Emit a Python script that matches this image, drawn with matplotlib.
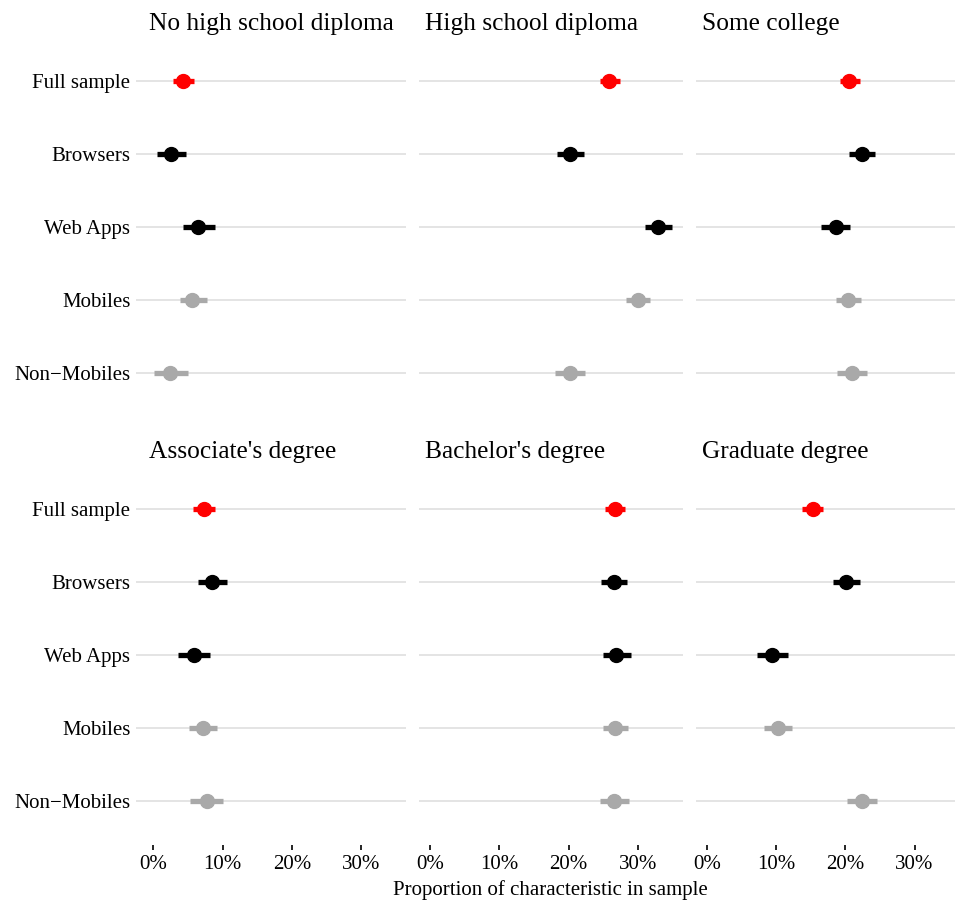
import numpy as np
import matplotlib
matplotlib.use("Agg")
import matplotlib.pyplot as plt
from matplotlib.ticker import FuncFormatter

plt.rcParams['font.family'] = ['Liberation Serif', 'DejaVu Serif']

# facet titles (education level) and rows within each facet
panels = ["No high school diploma", "High school diploma", "Some college",
          "Associate's degree", "Bachelor's degree", "Graduate degree"]
groups = ["Full sample", "Browsers", "Web Apps", "Mobiles", "Non\u2212Mobiles"]
group_colors = ["#FF0000", "#000000", "#000000", "#A9A9A9", "#A9A9A9"]

# share of sample (%) per panel, rows in the order of `groups`
est = [
    [4.3, 2.5, 6.5, 5.6, 2.4],
    [25.9, 20.2, 32.9, 30.0, 20.2],
    [20.6, 22.4, 18.6, 20.4, 21.0],
    [7.3, 8.5, 5.9, 7.1, 7.7],
    [26.7, 26.5, 26.9, 26.7, 26.6],
    [15.3, 20.1, 9.4, 10.3, 22.4],
]
lower = [
    [2.9, 0.5, 4.3, 3.8, 0.1],
    [24.6, 18.3, 31.0, 28.3, 18.0],
    [19.3, 20.5, 16.5, 18.7, 18.8],
    [5.8, 6.5, 3.6, 5.2, 5.3],
    [25.3, 24.7, 24.9, 25.0, 24.5],
    [13.8, 18.2, 7.3, 8.3, 20.3],
]
upper = [
    [5.9, 4.7, 8.9, 7.8, 5.0],
    [27.4, 22.2, 34.9, 31.8, 22.4],
    [22.1, 24.3, 20.7, 22.3, 23.2],
    [8.9, 10.6, 8.2, 9.2, 10.1],
    [28.1, 28.4, 29.0, 28.6, 28.7],
    [16.8, 22.1, 11.7, 12.3, 24.6],
]
xticks = [0, 10, 20, 30]

W, H = 955, 907
fig = plt.figure(figsize=(W / 100, H / 100), dpi=100)

# panel geometry in pixels
col_left = [136, 419, 696]
col_right = [406, 683, 960]
col_zero = [153.3, 430.0, 706.7]
title_x = [149, 425, 702]
px_per_pct = 6.93
row_top = [37.2, 465.2]
row_bot = [416.8, 844.8]

for i, title in enumerate(panels):
    r, c = divmod(i, 3)
    ax = fig.add_axes([col_left[c] / W, 1 - row_bot[r] / H,
                       (col_right[c] - col_left[c]) / W,
                       (row_bot[r] - row_top[r]) / H])
    ypos = np.arange(len(groups))
    for j in range(len(groups)):
        ax.plot([lower[i][j], upper[i][j]], [ypos[j], ypos[j]],
                color=group_colors[j], lw=3.8, solid_capstyle='butt', zorder=3)
        ax.plot(est[i][j], ypos[j], 'o', color=group_colors[j],
                markersize=10, zorder=4)
    ax.set_xlim((col_left[c] - col_zero[c]) / px_per_pct,
                (col_right[c] - col_zero[c]) / px_per_pct)
    ax.set_ylim(len(groups) - 0.4, -0.6)
    ax.set_yticks(ypos)
    for y in ypos:
        ax.axhline(y, color='#DCDCDC', lw=1.1, zorder=1)
    for s in ax.spines.values():
        s.set_visible(False)
    ax.tick_params(axis='y', length=0, pad=4, labelsize=15)
    if c == 0:
        ax.set_yticklabels(groups)
    else:
        ax.set_yticklabels([])
    ax.set_xticks(xticks)
    if r == 1:
        ax.xaxis.set_major_formatter(FuncFormatter(lambda v, p: f"{v:.0f}%"))
        ax.tick_params(axis='x', length=3.5, width=1.2, pad=4, labelsize=15)
    else:
        ax.tick_params(axis='x', length=0, labelbottom=False)
    fig.text(title_x[c] / W, 1 - (row_top[r] - 13) / H, title,
             fontsize=18.3, ha='left', va='center')

fig.text(550 / W, 1 - 890 / H, "Proportion of characteristic in sample",
         fontsize=15, ha='center', va='center')

fig.savefig("out.png", dpi=100)
